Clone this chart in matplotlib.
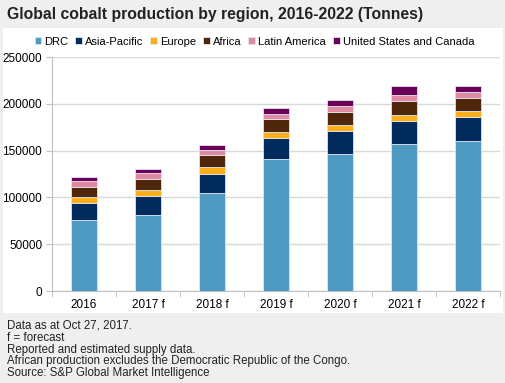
import matplotlib
matplotlib.use('Agg')
import matplotlib.pyplot as plt
import numpy as np

years = ['2016', '2017 f', '2018 f', '2019 f', '2020 f', '2021 f', '2022 f']
drc = [75500, 80800, 104700, 141200, 146900, 157300, 160500]
asia_pacific = [18800, 20300, 20600, 21800, 23600, 23900, 24900]
europe = [6100, 7100, 6800, 7100, 7100, 6800, 6900]
africa = [10300, 11700, 12800, 13200, 13900, 14600, 13900]
latin_america = [6400, 5800, 6000, 5700, 6100, 6400, 6000]
us_canada = [5000, 4900, 5000, 6500, 6800, 9600, 7200]

series = [
    ('DRC', drc, '#4f9ac3'),
    ('Asia-Pacific', asia_pacific, '#002b5c'),
    ('Europe', europe, '#ffae1b'),
    ('Africa', africa, '#4e260a'),
    ('Latin America', latin_america, '#e08aa4'),
    ('United States and Canada', us_canada, '#6b0058'),
]

notes = ['Data as at Oct 27, 2017.',
         'f = forecast',
         'Reported and estimated supply data.',
         'African production excludes the Democratic Republic of the Congo.',
         'Source: S&P Global Market Intelligence']

plt.rcParams['font.family'] = ['Liberation Sans', 'DejaVu Sans']

W, H = 506, 383
fig = plt.figure(figsize=(W / 100.0, H / 100.0), dpi=100, facecolor='#efefef')

# white panel behind the chart
bg = fig.add_axes([3.0 / W, 1 - 313.0 / H, 500.0 / W, 285.0 / H], zorder=0)
bg.set_facecolor('white')
bg.set_xticks([])
bg.set_yticks([])
for s in bg.spines.values():
    s.set_visible(False)

ax = fig.add_axes([52.0 / W, 1 - 291.0 / H, 448.0 / W, 234.0 / H], zorder=1)
ax.set_facecolor('none')

x = np.arange(len(years))
bottom = np.zeros(len(years))
for name, vals, col in series:
    ax.bar(x, vals, 0.4, bottom=bottom, color=col, label=name,
           edgecolor='#dde6ee', linewidth=0.6, zorder=3)
    bottom += np.array(vals)

ax.set_xlim(-0.5, len(years) - 0.5)
ax.set_ylim(0, 250000)
ax.set_yticks(range(0, 250001, 50000))
ax.set_yticklabels([str(v) for v in range(0, 250001, 50000)], fontsize=8.5)
ax.yaxis.grid(True, color='#d9d9d9', linewidth=1, zorder=0)
ax.set_axisbelow(True)
ax.set_xticks(x)
ax.set_xticklabels(years, fontsize=8.5)
ax.tick_params(axis='x', length=0, pad=6)
ax.set_xticks(np.arange(-0.5, len(years)), minor=True)
ax.tick_params(axis='x', which='minor', length=4, color='#bfbfbf')
ax.tick_params(axis='y', length=4, color='#bfbfbf', pad=3)

for s in ['top', 'right']:
    ax.spines[s].set_visible(False)
ax.spines['left'].set_color('#bfbfbf')
ax.spines['bottom'].set_color('#bfbfbf')

ax.legend(loc='lower center', bbox_to_anchor=(0.452, 1.01), ncol=6, frameon=False,
          fontsize=8, handlelength=0.6, handleheight=0.6, handletextpad=0.3,
          columnspacing=0.6, borderaxespad=0.3)

fig.text(7.0 / W, 1 - 15.0 / H, 'Global cobalt production by region, 2016-2022 (Tonnes)',
         fontsize=11.3, fontweight='bold', color='#222222', va='center', ha='left')

for i, line in enumerate(notes):
    fig.text(7.0 / W, 1 - (326.0 + i * 11.8) / H, line, fontsize=8.3,
             color='#222222', va='center', ha='left')

fig.savefig('out.png', dpi=100, facecolor=fig.get_facecolor())
